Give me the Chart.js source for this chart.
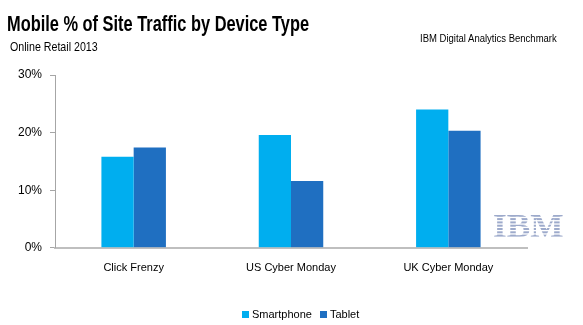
<!DOCTYPE html>
<html>
<head>
<meta charset="utf-8">
<script src="https://cdn.jsdelivr.net/npm/chart.js@4"></script>
<style>
  html, body { margin: 0; padding: 0; background: #fff; }
  #wrap { position: relative; width: 583px; height: 325px; overflow: hidden; font-family: "Liberation Sans", Arial, sans-serif; color: #000; }
  #wrap .txt { position: absolute; white-space: nowrap; line-height: 1; transform-origin: 0 0; }
  #title { left: 7px; top: 13px; font-size: 22px; font-weight: bold; transform: scaleX(0.745); }
  #subtitle { left: 10px; top: 40px; font-size: 13px; transform: scaleX(0.82); }
  #source { left: 420px; top: 34px; font-size: 10px; transform: scaleX(0.95); }
  #chart { position: absolute; left: 0; top: 0; }
  #legend { position: absolute; top: 309px; left: 242px; display: flex; align-items: center; font-size: 11px; line-height: 1; }
  #legend .item { display: flex; align-items: center; margin-right: 8px; }
  #legend .box { display: inline-block; width: 7px; height: 7px; margin-right: 3px; }
</style>
</head>
<body>
<div id="wrap">
  <canvas id="chart" width="583" height="325"></canvas>
  <div id="title" class="txt">Mobile % of Site Traffic by Device Type</div>
  <div id="subtitle" class="txt">Online Retail 2013</div>
  <div id="source" class="txt">IBM Digital Analytics Benchmark</div>
  <div id="legend"></div>
</div>
<script>
const categories = ["Click Frenzy", "US Cyber Monday", "UK Cyber Monday"];
const seriesNames = ["Smartphone", "Tablet"];
const smartphone = [15.8, 19.6, 24.0];
const tablet = [17.4, 11.6, 20.3];
const yTicks = [0, 10, 20, 30];
const colors = ["#00AEEF", "#1F6FC1"];

const fontFamily = '"Liberation Sans", Arial, sans-serif';

// striped IBM logo in the lower right corner
const ibmLogo = {
  id: "ibmLogo",
  afterDraw(chart) {
    const c = chart.ctx;
    c.save();
    c.translate(493, 237);
    c.scale(1.07, 1);
    c.font = "bold 33px 'Liberation Serif', serif";
    c.fillStyle = "#9DAACB";
    c.fillText("IBM", 0, 0);
    c.restore();
    c.save();
    c.fillStyle = "#fff";
    for (let y = 213.5; y < 238; y += 3.3) c.fillRect(488, y, 80, 1.3);
    c.restore();
  }
};

const chart = new Chart(document.getElementById("chart"), {
  type: "bar",
  data: {
    labels: categories,
    datasets: [
      { label: seriesNames[0], data: smartphone, backgroundColor: colors[0] },
      { label: seriesNames[1], data: tablet, backgroundColor: colors[1] }
    ]
  },
  options: {
    responsive: false,
    animation: false,
    layout: { padding: { top: 75, right: 56, bottom: 44, left: 0 } },
    datasets: { bar: { categoryPercentage: 0.41, barPercentage: 1.0 } },
    plugins: {
      legend: { display: false },
      tooltip: { enabled: false }
    },
    scales: {
      x: {
        grid: { display: false },
        border: { color: "#BFBFBF", width: 2 },
        ticks: { color: "#000", font: { family: fontFamily, size: 11 }, padding: 6 }
      },
      y: {
        min: 0,
        max: 30,
        afterFit(scale) { scale.width = 55; },
        afterBuildTicks(scale) { scale.ticks = yTicks.map(v => ({ value: v })); },
        grid: { display: true, drawOnChartArea: false, tickLength: 5, color: "#A6A6A6" },
        border: { color: "#A6A6A6", width: 1 },
        ticks: {
          color: "#000",
          font: { family: fontFamily, size: 12 },
          padding: 8,
          callback: v => v + "%"
        }
      }
    }
  },
  plugins: [ibmLogo]
});

// legend built from the same series arrays
const legend = document.getElementById("legend");
seriesNames.forEach((name, i) => {
  const item = document.createElement("span");
  item.className = "item";
  item.innerHTML = '<span class="box" style="background:' + colors[i] + '"></span>' + name;
  legend.appendChild(item);
});
</script>
</body>
</html>
